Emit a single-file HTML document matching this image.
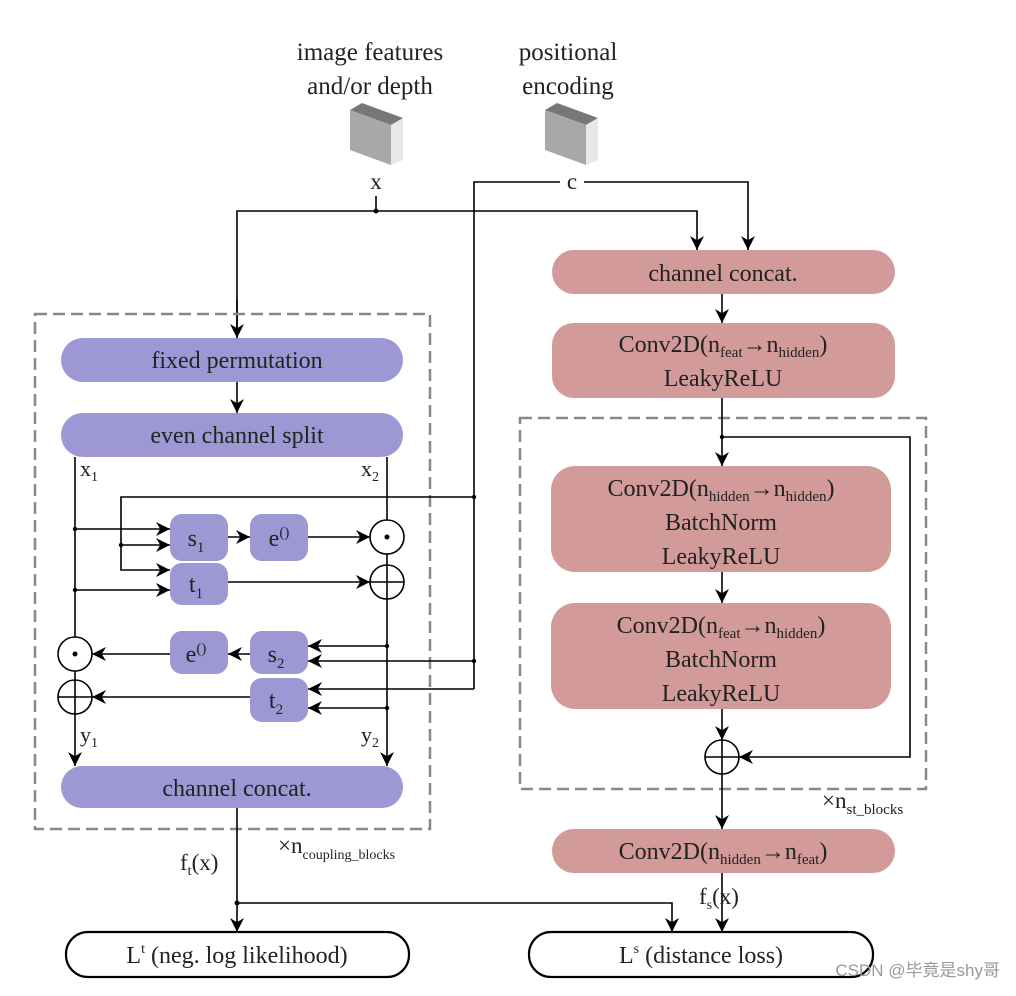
<!DOCTYPE html>
<html><head><meta charset="utf-8"><style>
html,body{margin:0;padding:0;background:#fff}
svg text{font-family:"Liberation Serif",serif;fill:#222}
</style></head><body>
<svg width="1016" height="991" viewBox="0 0 1016 991" xmlns="http://www.w3.org/2000/svg">
<defs>
<marker id="b" viewBox="0 0 10 10" refX="10" refY="5" markerWidth="14" markerHeight="14" markerUnits="userSpaceOnUse" orient="auto"><path d="M0,0 L10,5 L0,10 L3,5 Z" fill="#000"/></marker>
</defs>
<g font-size="25" text-anchor="middle">
<text x="370" y="60">image features</text>
<text x="370" y="94">and/or depth</text>
<text x="568" y="60">positional</text>
<text x="568" y="94">encoding</text>
</g>
<g>
<polygon points="350,110 362,103 403,118 391,125" fill="#777"/>
<polygon points="350,110 391,125 391,165 350,150" fill="#a8a8a8"/>
<polygon points="391,125 403,118 403,160 391,165" fill="#e8e8e8"/>
<polygon points="545,110 557,103 598,118 586,125" fill="#777"/>
<polygon points="545,110 586,125 586,165 545,150" fill="#a8a8a8"/>
<polygon points="586,125 598,118 598,160 586,165" fill="#e8e8e8"/>
</g>
<text x="376" y="189" font-size="23" text-anchor="middle">x</text>
<text x="572" y="189" font-size="23" text-anchor="middle">c</text>
<g stroke="#000" stroke-width="1.6" fill="none">
<line x1="376" y1="196" x2="376" y2="211"/>
<polyline points="237,338 237,211 697,211 697,250" marker-end="url(#b)"/>
<line x1="237" y1="300" x2="237" y2="338" marker-end="url(#b)"/>
<polyline points="560,182 474,182 474,689"/>
<polyline points="584,182 748,182 748,250" marker-end="url(#b)"/>
</g>
<circle cx="376" cy="211" r="2.5"/>
<rect x="35" y="314" width="395" height="515" fill="none" stroke="#888" stroke-width="2.5" stroke-dasharray="12,6"/>
<g fill="#9d97d3">
<rect x="61" y="338" width="342" height="44" rx="22"/>
<rect x="61" y="413" width="342" height="44" rx="22"/>
<rect x="61" y="766" width="342" height="42" rx="21"/>
<rect x="170" y="514" width="58" height="47" rx="12"/>
<rect x="250" y="514" width="58" height="47" rx="12"/>
<rect x="170" y="563" width="58" height="42" rx="12"/>
<rect x="170" y="631" width="58" height="43" rx="12"/>
<rect x="250" y="631" width="58" height="43" rx="12"/>
<rect x="250" y="678" width="58" height="44" rx="12"/>
</g>
<g font-size="24" text-anchor="middle">
<text x="237" y="368">fixed permutation</text>
<text x="237" y="443">even channel split</text>
<text x="237" y="796">channel concat.</text>
<text x="196" y="546">s<tspan font-size="15" dy="6">1</tspan></text>
<text x="279" y="546">e<tspan font-size="15" dy="-9">()</tspan></text>
<text x="196" y="592">t<tspan font-size="15" dy="6">1</tspan></text>
<text x="196" y="662">e<tspan font-size="15" dy="-9">()</tspan></text>
<text x="276" y="662">s<tspan font-size="15" dy="6">2</tspan></text>
<text x="276" y="708">t<tspan font-size="15" dy="6">2</tspan></text>
</g>
<g font-size="22">
<text x="80" y="476">x<tspan font-size="14" dy="5">1</tspan></text>
<text x="361" y="476">x<tspan font-size="14" dy="5">2</tspan></text>
<text x="80" y="742">y<tspan font-size="14" dy="5">1</tspan></text>
<text x="361" y="742">y<tspan font-size="14" dy="5">2</tspan></text>
</g>
<g stroke="#000" stroke-width="1.6" fill="none">
<line x1="237" y1="382" x2="237" y2="413" marker-end="url(#b)"/>
<line x1="75" y1="457" x2="75" y2="637"/>
<line x1="75" y1="671" x2="75" y2="680"/>
<line x1="75" y1="714" x2="75" y2="766" marker-end="url(#b)"/>
<line x1="387" y1="457" x2="387" y2="520"/>
<line x1="387" y1="554" x2="387" y2="565"/>
<line x1="387" y1="599" x2="387" y2="766" marker-end="url(#b)"/>
<polyline points="474,497 121,497 121,570 170,570" marker-end="url(#b)"/>
<line x1="75" y1="529" x2="170" y2="529" marker-end="url(#b)"/>
<line x1="121" y1="545" x2="170" y2="545" marker-end="url(#b)"/>
<line x1="75" y1="590" x2="170" y2="590" marker-end="url(#b)"/>
<line x1="228" y1="537" x2="250" y2="537" marker-end="url(#b)"/>
<line x1="308" y1="537" x2="370" y2="537" marker-end="url(#b)"/>
<line x1="228" y1="582" x2="370" y2="582" marker-end="url(#b)"/>
<line x1="387" y1="646" x2="308" y2="646" marker-end="url(#b)"/>
<line x1="474" y1="661" x2="308" y2="661" marker-end="url(#b)"/>
<line x1="474" y1="689" x2="308" y2="689" marker-end="url(#b)"/>
<line x1="387" y1="708" x2="308" y2="708" marker-end="url(#b)"/>
<line x1="250" y1="654" x2="228" y2="654" marker-end="url(#b)"/>
<line x1="170" y1="654" x2="92" y2="654" marker-end="url(#b)"/>
<line x1="250" y1="697" x2="92" y2="697" marker-end="url(#b)"/>
<circle cx="387" cy="537" r="17"/>
<circle cx="387" cy="582" r="17"/>
<line x1="370" y1="582" x2="404" y2="582"/><line x1="387" y1="565" x2="387" y2="599"/>
<circle cx="75" cy="654" r="17"/>
<circle cx="75" cy="697" r="17"/>
<line x1="58" y1="697" x2="92" y2="697"/><line x1="75" y1="680" x2="75" y2="714"/>
</g>
<g>
<circle cx="387" cy="537" r="2.5"/><circle cx="75" cy="654" r="2.5"/>
<circle cx="75" cy="529" r="2.2"/><circle cx="121" cy="545" r="2.2"/><circle cx="75" cy="590" r="2.2"/>
<circle cx="474" cy="497" r="2.2"/><circle cx="474" cy="661" r="2.2"/>
<circle cx="387" cy="646" r="2.2"/><circle cx="387" cy="708" r="2.2"/>
</g>
<text x="278" y="853" font-size="23">×n<tspan font-size="14" dy="6">coupling_blocks</tspan></text>
<text x="180" y="870" font-size="23">f<tspan font-size="14" dy="5">t</tspan><tspan dy="-5">(x)</tspan></text>
<g stroke="#000" stroke-width="1.6" fill="none">
<line x1="237" y1="808" x2="237" y2="932" marker-end="url(#b)"/>
<polyline points="237,903 672,903 672,932" marker-end="url(#b)"/>
<line x1="722" y1="873" x2="722" y2="932" marker-end="url(#b)"/>
</g>
<circle cx="237" cy="903" r="2.5"/>
<rect x="66" y="932" width="343" height="45" rx="22" fill="#fff" stroke="#000" stroke-width="2.2"/>
<rect x="529" y="932" width="344" height="45" rx="22" fill="#fff" stroke="#000" stroke-width="2.2"/>
<text x="237" y="963" font-size="24" text-anchor="middle">L<tspan font-size="14" dy="-10">t</tspan><tspan dy="10"> (neg. log likelihood)</tspan></text>
<text x="701" y="963" font-size="24" text-anchor="middle">L<tspan font-size="14" dy="-10">s</tspan><tspan dy="10"> (distance loss)</tspan></text>
<text x="699" y="904" font-size="23">f<tspan font-size="14" dy="5">s</tspan><tspan dy="-5">(x)</tspan></text>
<g fill="#d39a9a">
<rect x="552" y="250" width="343" height="44" rx="22"/>
<rect x="552" y="323" width="343" height="75" rx="22"/>
<rect x="551" y="466" width="340" height="106" rx="24"/>
<rect x="551" y="603" width="340" height="106" rx="24"/>
<rect x="552" y="829" width="343" height="44" rx="22"/>
</g>
<rect x="520" y="418" width="406" height="371" fill="none" stroke="#888" stroke-width="2.5" stroke-dasharray="12,6"/>
<g font-size="24" text-anchor="middle">
<text x="723" y="281">channel concat.</text>
<text x="723" y="352">Conv2D(n<tspan font-size="15" dy="5">feat</tspan><tspan dy="-5">→n</tspan><tspan font-size="15" dy="5">hidden</tspan><tspan dy="-5">)</tspan></text>
<text x="723" y="386">LeakyReLU</text>
<text x="721" y="496">Conv2D(n<tspan font-size="15" dy="5">hidden</tspan><tspan dy="-5">→n</tspan><tspan font-size="15" dy="5">hidden</tspan><tspan dy="-5">)</tspan></text>
<text x="721" y="530">BatchNorm</text>
<text x="721" y="564">LeakyReLU</text>
<text x="721" y="633">Conv2D(n<tspan font-size="15" dy="5">feat</tspan><tspan dy="-5">→n</tspan><tspan font-size="15" dy="5">hidden</tspan><tspan dy="-5">)</tspan></text>
<text x="721" y="667">BatchNorm</text>
<text x="721" y="701">LeakyReLU</text>
<text x="723" y="859">Conv2D(n<tspan font-size="15" dy="5">hidden</tspan><tspan dy="-5">→n</tspan><tspan font-size="15" dy="5">feat</tspan><tspan dy="-5">)</tspan></text>
</g>
<text x="822" y="808" font-size="23">×n<tspan font-size="15" dy="6">st_blocks</tspan></text>
<g stroke="#000" stroke-width="1.6" fill="none">
<line x1="722" y1="294" x2="722" y2="323" marker-end="url(#b)"/>
<line x1="722" y1="398" x2="722" y2="466" marker-end="url(#b)"/>
<polyline points="722,437 910,437 910,757 739,757" marker-end="url(#b)"/>
<line x1="722" y1="572" x2="722" y2="603" marker-end="url(#b)"/>
<line x1="722" y1="709" x2="722" y2="740" marker-end="url(#b)"/>
<circle cx="722" cy="757" r="17"/>
<line x1="705" y1="757" x2="739" y2="757"/><line x1="722" y1="740" x2="722" y2="774"/>
<line x1="722" y1="774" x2="722" y2="829" marker-end="url(#b)"/>
</g>
<circle cx="722" cy="437" r="2.2"/>
<text x="1000" y="976" font-size="17" text-anchor="end" style="font-family:'Liberation Sans','Noto Sans CJK SC',sans-serif;fill:#999">CSDN @毕竟是shy哥</text>
</svg>
</body></html>
